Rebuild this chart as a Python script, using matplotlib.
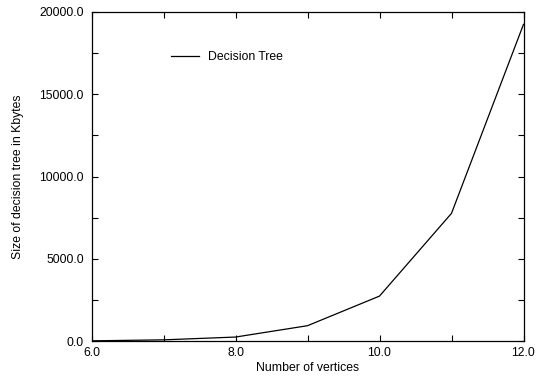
import matplotlib
matplotlib.use("Agg")
import matplotlib.pyplot as plt
from matplotlib.ticker import MultipleLocator, FormatStrFormatter

plt.rcParams['font.family'] = ['Liberation Sans', 'DejaVu Sans']

vertices = [6, 7, 8, 9, 10, 11, 12]
tree_size_kb = [10, 70, 240, 930, 2730, 7760, 19250]

FS = 8.8

fig = plt.figure(figsize=(5.38, 3.76), dpi=100)
ax = fig.add_axes([91.5 / 538, 35 / 376, 432 / 538, 329 / 376])

ax.plot(vertices, tree_size_kb, color='black', linewidth=0.9, label='Decision Tree')

ax.set_xlim(6, 12)
ax.set_ylim(0, 20000)
ax.xaxis.set_major_locator(MultipleLocator(2))
ax.xaxis.set_minor_locator(MultipleLocator(1))
ax.yaxis.set_major_locator(MultipleLocator(5000))
ax.yaxis.set_minor_locator(MultipleLocator(2500))
ax.xaxis.set_major_formatter(FormatStrFormatter('%.1f'))
ax.yaxis.set_major_formatter(FormatStrFormatter('%.1f'))
ax.tick_params(which='both', direction='in', top=True, right=True,
               length=4, width=0.8, labelsize=FS)
ax.tick_params(axis='x', pad=4.5)
ax.tick_params(axis='y', pad=5.5)

for s in ax.spines.values():
    s.set_linewidth(0.9)

ax.set_xlabel('Number of vertices', fontsize=FS, labelpad=2)
ax.set_ylabel('Size of decision tree in Kbytes', fontsize=FS, labelpad=11)

ax.legend(loc='upper left', bbox_to_anchor=(0.158, 0.915), frameon=False,
          fontsize=FS, handlelength=2.3, handletextpad=0.75)

fig.savefig('out.png', dpi=100)
